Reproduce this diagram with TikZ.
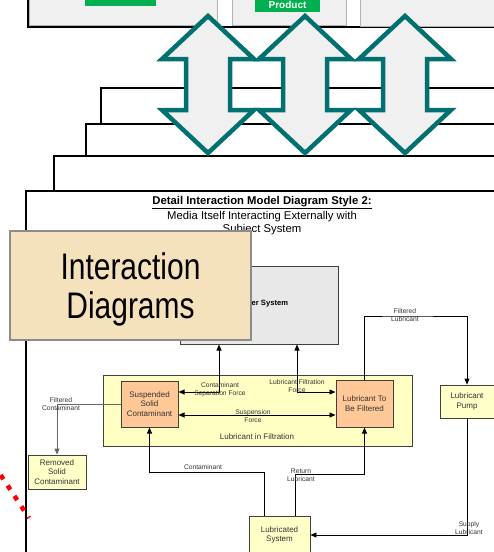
\documentclass[tikz,border=0pt]{standalone}
\usepackage{fontspec}
\setmainfont{Liberation Sans}
\usepackage{tikz}
\usetikzlibrary{arrows.meta}

\definecolor{pfeilteal}{RGB}{0,112,112}
\definecolor{hellgrau}{RGB}{240,240,240}
\definecolor{sysgrau}{RGB}{232,232,232}
\definecolor{gruen}{RGB}{0,176,80}
\definecolor{hellgelb}{RGB}{255,255,200}
\definecolor{filtgelb}{RGB}{255,255,196}
\definecolor{pfirsich}{RGB}{255,200,150}
\definecolor{beige}{RGB}{245,226,188}

\begin{document}
\begin{tikzpicture}[x=1pt, y=-1pt, >={Triangle[length=6pt, width=5pt]},
  box/.style={draw=black!75, line width=0.8pt, fill=hellgelb, text=black!80,
    font=\fontsize{8}{9.8}\selectfont, align=center, inner sep=0pt},
  teil/.style={box, fill=pfirsich, line width=1pt},
  beschr/.style={font=\fontsize{6.7}{8}\selectfont, text=black!80,
    align=center, inner sep=0pt},
  fluss/.style={->, line width=0.8pt},
  wechsel/.style={<->, line width=0.8pt}]
\clip (0,0) rectangle (494,552);

% Oberer Rahmen mit Kaesten
\draw[line width=1.5pt, fill=white] (28,-10) rectangle (520,27);
\draw[black!30, fill=hellgrau] (29,-10) rectangle (217,25.5);
\draw[black!30, fill=hellgrau] (232,-10) rectangle (346,25);
\draw[black!30, fill=hellgrau] (360,-10) rectangle (520,26);
\fill[gruen] (85,-10) rectangle (156,6);
\fill[gruen] (255,-10) rectangle (320,12);
\node[anchor=base, text=white, inner sep=0pt, font=\bfseries\fontsize{10}{12}\selectfont]
    (produkt) at (287.5,8.5) {Product};

% Gestapelte Rahmen
\foreach \x/\y in {101/88, 86/124, 54/156}
{
    \draw[line width=1.3pt, fill=white] (\x,\y) rectangle (530,600);
}
\draw[line width=1.6pt, fill=white] (26,191) rectangle (530,600);

% Doppelpfeile
\foreach \c in {208,305,405}
{
    \draw[pfeilteal, line width=4.5pt, fill=hellgrau]
        (\c,16) -- ({\c+46},59) -- ({\c+22},59) -- ({\c+22},110)
        -- ({\c+46},110) -- (\c,153) -- ({\c-46},110) -- ({\c-22},110)
        -- ({\c-22},59) -- ({\c-46},59) -- cycle;
}

% Titel
\node[inner sep=0pt, font=\bfseries\fontsize{11.3}{13}\selectfont]
    (titel) at (262,203) {\underline{Detail Interaction Model Diagram Style 2:}};
\node[inner sep=0pt, align=center, font=\fontsize{11.3}{13}\selectfont]
    (untertitel) at (262,223.5) {Media Itself Interacting Externally with\\Subject System};

% System
\node[draw=black!75, line width=1pt, fill=sysgrau, minimum width=158,
    minimum height=78] (sys) at (259,305) {};
\node[anchor=west, inner sep=0pt, font=\bfseries\fontsize{7.6}{9}\selectfont]
    (systext) at (251.5,304) {er System};

% Schmiermittel in Filtration
\node[box, fill=filtgelb, minimum width=309, minimum height=71]
    (filt) at (257.5,410.5) {};
\node[inner sep=0pt, text=black!80, font=\fontsize{8}{10}\selectfont]
    (filttext) at (257,437) {Lubricant in Filtration};

% Kaesten
\node[teil, minimum width=57, minimum height=46] (ssc) at (149.5,404)
    {Suspended\\Solid\\Contaminant};
\node[teil, minimum width=57, minimum height=47] (ltbf) at (364.5,403.5)
    {Lubricant To\\Be Filtered};
\node[box, minimum width=58, minimum height=34] (rsc) at (57,472)
    {Removed\\Solid\\Contaminant};
\node[box, minimum width=54, minimum height=33] (pump) at (467,401.5)
    {Lubricant\\Pump};
\node[box, minimum width=61, minimum height=38] (lsys) at (279.5,535)
    {Lubricated\\System};

% Hilfspunkte
\coordinate (k1) at (219,392);
\coordinate (k2) at (297,392);
\coordinate (k3) at (257,415);
\coordinate (k5) at (264,472);
\coordinate (k6) at (295,474);
\coordinate (k7) at (400,316);

% Verbindungen
\draw[wechsel] (k1 |- sys.south) -- (k1) -- (k1 -| ssc.east);
\draw[wechsel] (k2 |- sys.south) -- (k2) -- (k2 -| ltbf.west);
\draw[wechsel] (k3 -| ssc.east) -- (k3 -| ltbf.west);
\draw[fluss, black!60, line width=1pt] (ssc.west) -| (rsc.north);
\draw[fluss] (k5 |- lsys.north) -- (k5) -| (ssc.south);
\draw[fluss] (k6 |- lsys.north) -- (k6) -| (ltbf.south);
\draw[fluss] (ltbf.north) |- (k7) -| (pump.north);
\draw[fluss] (pump.south) |- (lsys.east);

% Beschriftungen
\node[beschr] (l1) at (220,390) {Contaminant\\Separation Force};
\node[beschr] (l2) at (297,386) {Lubricant Filtration\\Force};
\node[beschr] (l3) at (253,416) {Suspension\\Force};
\node[beschr] (l4) at (61,404.5) {Filtered\\Contaminant};
\node[beschr] (l5) at (203,467) {Contaminant};
\node[beschr] (l6) at (301,475) {Return\\Lubricant};
\node[beschr] (l7) at (405,315.5) {Filtered\\Lubricant};
\node[beschr] (l8) at (469,528.5) {Supply\\Lubricant};

% Kasten Interaction Diagrams
\draw[black!45, line width=1.5pt, fill=beige] (10,231) rectangle (251,340);
\node[anchor=base, inner sep=0pt, font=\fontsize{37}{39}\selectfont]
    (id1) at (130.5,279) {\scalebox{0.81}[1]{Interaction}};
\node[anchor=base, inner sep=0pt, font=\fontsize{37}{39}\selectfont]
    (id2) at (130.5,318) {\scalebox{0.81}[1]{Diagrams}};

% Rote Punktlinie
\draw[red, line width=4.5pt, dash pattern=on 5pt off 7.5pt] (-6.2,464.6) -- (29,518);

\end{tikzpicture}
\end{document}
